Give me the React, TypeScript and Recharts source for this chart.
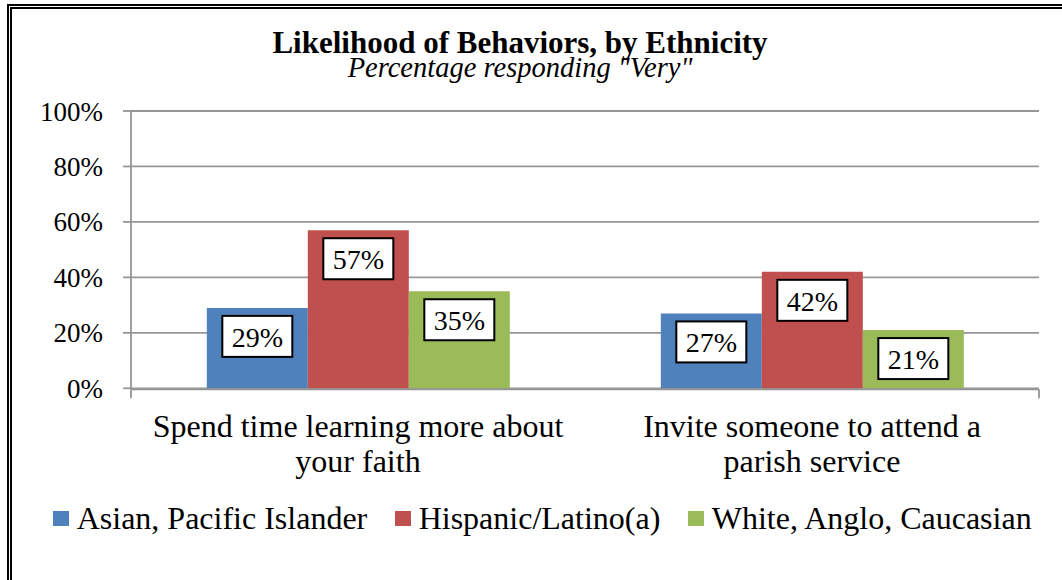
import React from "react";
import { BarChart, Bar, XAxis, YAxis, CartesianGrid, LabelList, Legend } from "recharts";

const categories = [
  "Spend time learning more about\nyour faith",
  "Invite someone to attend a\nparish service",
];
const asianValues = [29, 27];
const hispanicValues = [57, 42];
const whiteValues = [35, 21];
const yTicks = [0, 20, 40, 60, 80, 100];
const seriesKeys = ["asian", "hispanic", "white"];
const seriesNames = ["Asian, Pacific Islander", "Hispanic/Latino(a)", "White, Anglo, Caucasian"];
const seriesColors = ["#4F81BD", "#C0504D", "#9BBB59"];
const edgeTicks = [0, 1, 2];

const titleText = "Likelihood of Behaviors, by Ethnicity";
const subtitleText = 'Percentage responding "Very"';

const FONT = '"Liberation Serif", "Times New Roman", serif';
const GRID = "#969696";

const data = categories.map((c, i) => ({
  category: c,
  asian: asianValues[i],
  hispanic: hispanicValues[i],
  white: whiteValues[i],
}));

const CategoryTick = (props: any) => {
  const { x, y, payload } = props;
  const lines = String(payload.value).split("\n");
  return (
    <text x={x} y={y} textAnchor="middle" fill="#000" style={{ fontFamily: FONT, fontSize: 32 }}>
      {lines.map((l, i) => (
        <tspan key={i} x={x} dy={i === 0 ? 0 : 34.6}>
          {l}
        </tspan>
      ))}
    </text>
  );
};

const YTick = (props: any) => {
  const { x, y, payload } = props;
  return (
    <text x={x} y={y} dy={9.5} textAnchor="end" fill="#000" style={{ fontFamily: FONT, fontSize: 27 }}>
      {`${payload.value}%`}
    </text>
  );
};

const BoxLabel = (props: any) => {
  const { x, y, width, value } = props;
  const cx = Number(x) + Number(width) / 2;
  const top = Number(y) + 8;
  return (
    <g>
      <rect x={cx - 35} y={top} width={70} height={41} fill="#fff" stroke="#000" strokeWidth={2} />
      <text x={cx} y={top + 31} textAnchor="middle" fill="#000" style={{ fontFamily: FONT, fontSize: 28 }}>
        {value}%
      </text>
    </g>
  );
};

const LegendContent = () => (
  <div style={{ display: "flex", alignItems: "flex-start", fontFamily: FONT, fontSize: 32, lineHeight: "32px", color: "#000", whiteSpace: "nowrap" }}>
    {seriesNames.map((n, i) => (
      <div key={n} style={{ display: "flex", alignItems: "flex-start", marginRight: 28 }}>
        <div style={{ width: 16, height: 15, background: seriesColors[i], marginTop: 9.2, marginRight: 7.4 }} />
        <span>{n}</span>
      </div>
    ))}
  </div>
);

export default function App() {
  return (
    <div style={{ position: "absolute", left: 0, top: 0, width: 1062, height: 580, overflow: "hidden", background: "#fff" }}>
      <div style={{ position: "absolute", left: 6.7, top: 4, width: 1200, height: 800, border: "5px double #000", boxSizing: "border-box" }} />
      <div style={{ position: "absolute", left: 0, top: 30.8, width: 1040, textAlign: "center", fontFamily: FONT, fontWeight: "bold", fontSize: 31, lineHeight: "24px", color: "#000" }}>
        {titleText}
      </div>
      <div style={{ position: "absolute", left: 0, top: 56.6, width: 1040, textAlign: "center", fontFamily: FONT, fontStyle: "italic", fontSize: 28.5, lineHeight: "22px", color: "#000" }}>
        {subtitleText}
      </div>
      <div style={{ position: "absolute", left: 0, top: 0 }}>
        <BarChart
          width={1062}
          height={580}
          data={data}
          margin={{ top: 111, right: 23, bottom: 189.7, left: 0 }}
          barGap={0}
          barCategoryGap="16.7%"
          style={{ fontFamily: FONT }}
        >
          <CartesianGrid vertical={false} stroke={GRID} strokeWidth={1.8} />
          <XAxis
            dataKey="category"
            height={1}
            axisLine={false}
            tickLine={false}
            tickSize={0}
            tickMargin={49}
            tick={<CategoryTick />}
            interval={0}
          />
          <XAxis
            xAxisId="edge"
            type="number"
            domain={[0, 2]}
            ticks={edgeTicks}
            allowDataOverflow
            height={1}
            tickSize={9}
            tickFormatter={() => ""}
            axisLine={{ stroke: GRID, strokeWidth: 1.8 }}
            tickLine={{ stroke: GRID, strokeWidth: 1.8 }}
          />
          <YAxis
            width={131}
            domain={[0, 100]}
            ticks={yTicks}
            tickSize={8}
            tickMargin={20}
            axisLine={{ stroke: GRID, strokeWidth: 1.8 }}
            tickLine={{ stroke: GRID, strokeWidth: 1.8 }}
            tick={<YTick />}
            interval={0}
          />
          {seriesKeys.map((k, i) => (
            <Bar key={k} dataKey={k} name={seriesNames[i]} fill={seriesColors[i]} isAnimationActive={false}>
              <LabelList dataKey={k} content={<BoxLabel />} />
            </Bar>
          ))}
          <Legend
            verticalAlign="middle"
            align="center"
            layout="horizontal"
            wrapperStyle={{ top: 501.5, left: 53.3, width: 1000 }}
            content={<LegendContent />}
          />
        </BarChart>
      </div>
    </div>
  );
}
